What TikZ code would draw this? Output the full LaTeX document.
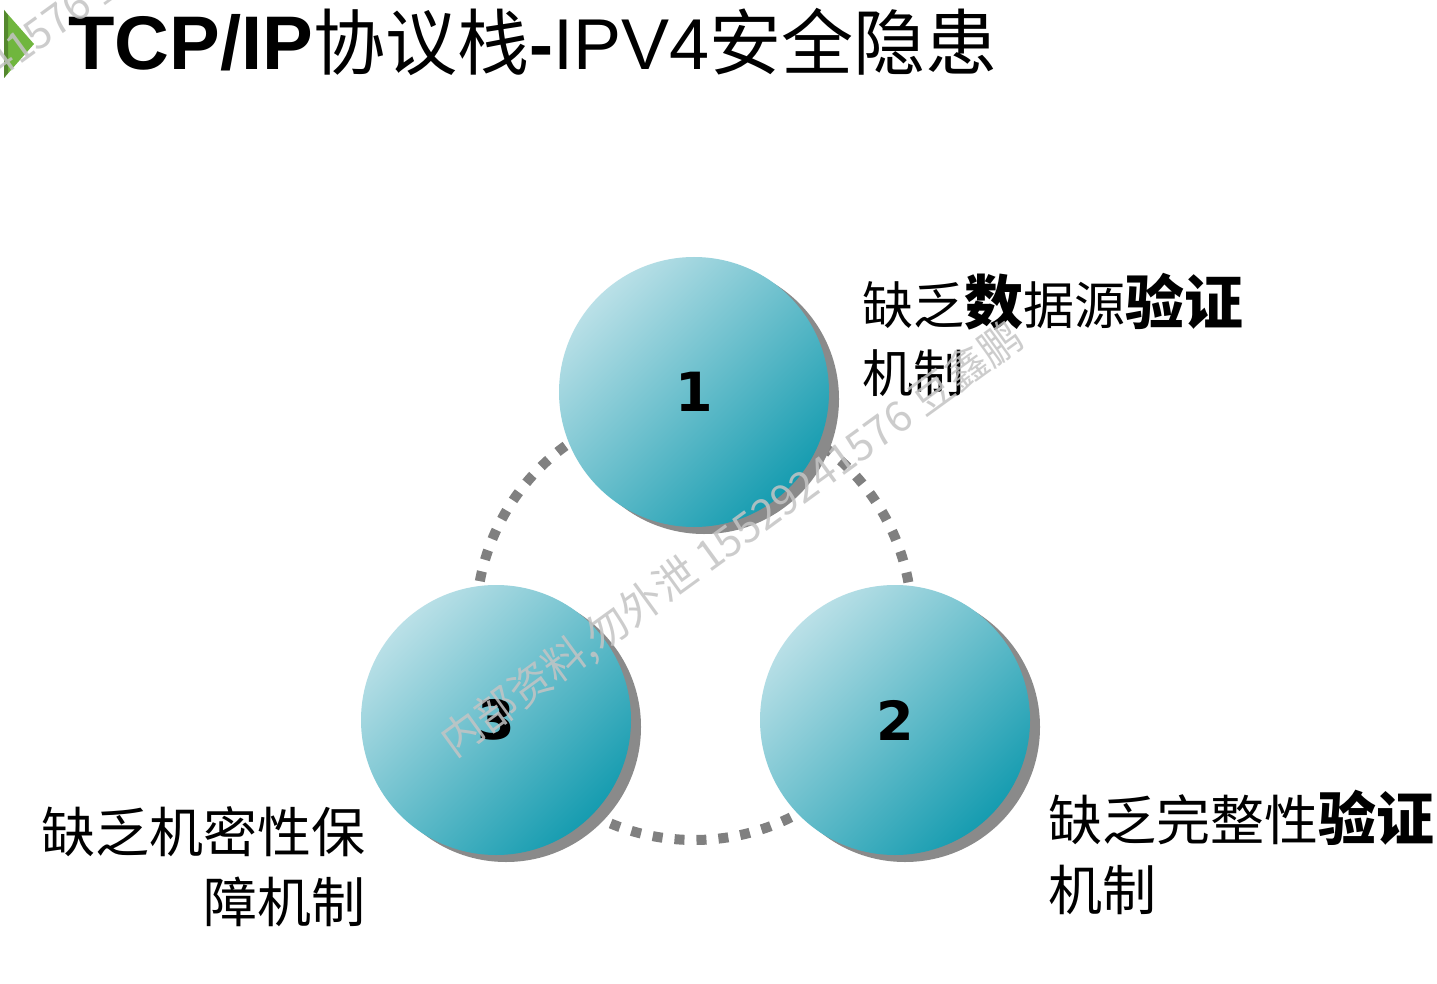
\documentclass[tikz,border=0pt]{standalone}
\usepackage{fontspec}
\newfontfamily\cjk{Noto Sans CJK SC}
\newfontfamily\lib{Liberation Sans}
\newfontfamily\numfont{DejaVu Sans}
\usetikzlibrary{shadows}
\definecolor{ballLight}{RGB}{186,224,231}
\definecolor{ballDark}{RGB}{22,156,176}
\definecolor{shadowGray}{RGB}{138,138,138}
\definecolor{dotGray}{RGB}{128,128,128}
\definecolor{arrowGreen}{RGB}{112,182,62}
\definecolor{wmGray}{RGB}{196,196,196}
\begin{document}
\begin{tikzpicture}[x=1pt,y=-1pt,
  ball/.style={circle, minimum size=270pt, inner sep=0pt,
    top color=ballLight, bottom color=ballDark, shading angle=45,
    drop shadow={shadow xshift=10pt, shadow yshift=-7pt, fill=shadowGray, opacity=1},
    font=\numfont\bfseries\fontsize{54}{54}\selectfont},
  ring/.style={draw=dotGray, line width=10pt, dash pattern=on 10pt off 12pt},
  lbl/.style={inner sep=0pt, font=\cjk\fontsize{54}{54}\selectfont},
  wm/.style={rotate=36, inner sep=0pt, text=wmGray, opacity=0.85, font=\cjk\fontsize{42}{42}\selectfont}]
\useasboundingbox (0,0) rectangle (1437,984);
\fill[white] (0,0) rectangle (1437,984);

% title arrow
\fill[arrowGreen] (4,10) -- (34,44) -- (4,78) -- cycle;
\fill[arrowGreen!75!black] (4,10) -- (8,15) -- (8,73) -- (4,78) -- cycle;

% title
\node[anchor=base west, inner sep=0pt] (title) at (68,70)
  {{\lib\bfseries\fontsize{76}{76}\selectfont TCP/IP}{\cjk\fontsize{72}{72}\selectfont 协议栈}{\lib\bfseries\fontsize{72}{72}\selectfont -}{\lib\fontsize{72}{72}\selectfont IPV4}{\cjk\fontsize{72}{72}\selectfont 安全隐患}};

% dotted ring
\coordinate (ringc) at (694,622);
\draw[ring] (ringc) circle[radius=218];

% balls
\node[ball] (b1) at (694,392) {1};
\node[ball] (b2) at (895,720) {2};
\node[ball] (b3) at (496,720) {3};

% labels
\node[lbl, anchor=base west, font=\cjk\fontsize{51}{51}\selectfont] (l1a) at (862,324)
  {缺乏{\bfseries\fontsize{59}{59}\selectfont 数}据源{\bfseries\fontsize{59}{59}\selectfont 验证}};
\node[lbl, anchor=base west, font=\cjk\fontsize{51}{51}\selectfont] (l1b) at (862,392) {机制};

\node[lbl, anchor=base west] (l2a) at (1048,840)
  {缺乏完整性{\bfseries\fontsize{58}{58}\selectfont 验证}};
\node[lbl, anchor=base west] (l2b) at (1048,910) {机制};

\node[lbl, anchor=base west] (l3a) at (41,852) {缺乏机密性保};
\node[lbl, anchor=base east] (l3b) at ([yshift=-70pt]l3a.base east) {障机制};

% watermark
\node[wm] (wm1) at (732,540) {内部资料,勿外泄 15529241576 豆鑫鹏};
\begin{scope}
\clip (0,0) rectangle (1437,984);
\node[wm] (wm2) at (-90,128) {内部资料,勿外泄 15529241576 豆鑫鹏};
\end{scope}
\end{tikzpicture}
\end{document}
